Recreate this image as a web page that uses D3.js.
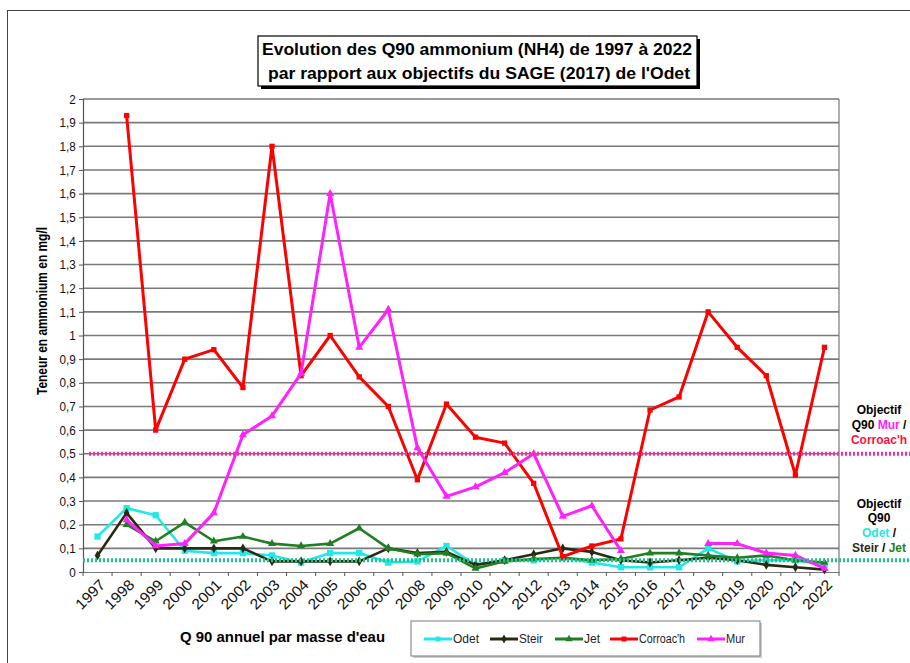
<!DOCTYPE html>
<html>
<head>
<meta charset="utf-8">
<script src="https://cdn.jsdelivr.net/npm/d3@7"></script>
<style>
  body { margin: 0; background: #fff; }
  #viz { width: 910px; height: 663px; }
  text { font-family: "Liberation Sans", Arial, sans-serif; }
</style>
</head>
<body>
<div id="viz"></div>
<script>
var years = ["1997","1998","1999","2000","2001","2002","2003","2004","2005","2006","2007","2008","2009",
  "2010","2011","2012","2013","2014","2015","2016","2017","2018","2019","2020","2021","2022"];

var odet = [0.15,0.27,0.24,0.09,0.08,0.08,0.07,0.04,0.08,0.08,0.04,0.045,0.11,0.03,0.05,0.05,0.06,0.04,
  0.02,0.02,0.02,0.10,0.045,0.05,0.05,0.03];
var steir = [0.07,0.25,0.10,0.10,0.10,0.10,0.045,0.045,0.045,0.045,0.10,0.08,0.085,0.03,0.05,0.075,0.10,0.085,
  0.05,0.04,0.05,0.06,0.05,0.03,0.02,0.01];
var jet = [null,0.20,0.13,0.21,0.13,0.15,0.12,0.11,0.12,0.185,0.10,0.075,0.08,0.015,0.045,0.055,0.06,0.05,
  0.055,0.08,0.08,0.07,0.06,0.07,0.05,0.04];
var corroach = [null,1.93,0.60,0.90,0.94,0.78,1.80,0.83,1.00,0.825,0.70,0.39,0.71,0.57,0.545,0.375,0.065,0.11,
  0.14,0.685,0.74,1.10,0.95,0.83,0.41,0.95];
var mur = [null,0.22,0.11,0.12,0.25,0.58,0.66,0.84,1.60,0.95,1.11,0.525,0.32,0.36,0.42,0.50,0.235,0.28,
  0.09,null,null,0.12,0.12,0.08,0.07,0.015];

var seriesNames = ["Odet","Steir","Jet","Corroac'h","Mur"];
var seriesValues = [odet, steir, jet, corroach, mur];
var seriesColors = ["#22e8e8","#2a2a12","#1f7f23","#ff0000","#ff22ff"];
var seriesMarkers = ["square","cross","triangle","square","triangle"];

var yTicks = [0,0.1,0.2,0.3,0.4,0.5,0.6,0.7,0.8,0.9,1,1.1,1.2,1.3,1.4,1.5,1.6,1.7,1.8,1.9,2];

var objectifMur = 0.5;
var objectifOdet = 0.05;

var width = 910, height = 663;
var margin = {top: 99, right: 71, bottom: 91, left: 83};
var plotW = width - margin.left - margin.right;
var plotH = height - margin.top - margin.bottom;

var svg = d3.select("#viz").append("svg")
    .attr("width", width)
    .attr("height", height);

// outer chart frame
svg.append("rect")
    .attr("x", 7.5).attr("y", 10.5)
    .attr("width", 1000).attr("height", 1000)
    .attr("fill", "none")
    .attr("stroke", "#444")
    .attr("stroke-width", 1);

var x = d3.scaleBand()
    .domain(years)
    .range([0, plotW]);

var y = d3.scaleLinear()
    .domain([0, 2])
    .range([plotH, 0]);

var g = svg.append("g")
    .attr("transform", "translate(" + margin.left + "," + margin.top + ")");

// grid
g.append("g")
    .selectAll("line")
    .data(yTicks.filter(function(d) { return d > 0; }))
    .enter().append("line")
    .attr("x1", 0).attr("x2", plotW)
    .attr("y1", function(d) { return y(d); })
    .attr("y2", function(d) { return y(d); })
    .attr("stroke", "#7a7a7a")
    .attr("stroke-width", 1.6);

g.append("line")
    .attr("x1", plotW).attr("x2", plotW)
    .attr("y1", 0).attr("y2", plotH)
    .attr("stroke", "#777").attr("stroke-width", 1.2);

// axes
var yAxis = d3.axisLeft(y)
    .tickValues(yTicks)
    .tickSize(4)
    .tickFormat(function(d) { return d3.format("~g")(d).replace(".", ","); });

var yg = g.append("g").call(yAxis);
yg.select(".domain").attr("stroke", "#555").attr("stroke-width", 1.2);
yg.selectAll(".tick line").attr("stroke", "#555");
yg.selectAll(".tick text")
    .attr("x", -8)
    .style("font-size", "13px")
    .style("font-family", "'Liberation Sans', Arial, sans-serif")
    .attr("transform", "scale(0.9,1)")
    .attr("fill", "#111");

var xAxis = d3.axisBottom(x).tickSize(0).tickPadding(0);
var xg = g.append("g")
    .attr("transform", "translate(0," + plotH + ")")
    .call(xAxis);
xg.select(".domain").attr("stroke", "#777").attr("stroke-width", 1.2);
xg.selectAll(".tick text")
    .attr("text-anchor", "end")
    .attr("transform", "translate(5,10) rotate(-45)")
    .attr("dy", "0.35em")
    .attr("y", 0)
    .attr("textLength", 35)
    .attr("lengthAdjust", "spacingAndGlyphs")
    .style("font-size", "15px")
    .style("font-family", "'Liberation Sans', Arial, sans-serif")
    .attr("fill", "#111");

// little ticks between categories
xg.append("g").selectAll("line")
    .data(years.concat(["end"]))
    .enter().append("line")
    .attr("x1", function(d, i) { return i * x.bandwidth(); })
    .attr("x2", function(d, i) { return i * x.bandwidth(); })
    .attr("y1", 0).attr("y2", 4)
    .attr("stroke", "#555");

// objective lines
svg.append("line")
    .attr("x1", margin.left + 6).attr("x2", width)
    .attr("y1", margin.top + y(objectifMur)).attr("y2", margin.top + y(objectifMur))
    .attr("stroke", "#f0329a")
    .attr("stroke-width", 4)
    .attr("stroke-dasharray", "2,2");

svg.append("line")
    .attr("x1", margin.left).attr("x2", width)
    .attr("y1", margin.top + y(objectifOdet)).attr("y2", margin.top + y(objectifOdet))
    .attr("stroke", "#1fc48c")
    .attr("stroke-width", 4)
    .attr("stroke-dasharray", "2,2");

function markerPath(type, size) {
  if (type == "square") return d3.symbol().type(d3.symbolSquare).size(size)();
  if (type == "triangle") return d3.symbol().type(d3.symbolTriangle).size(size)();
  return d3.symbol().type(d3.symbolDiamond).size(size)();
}

// series
var line = d3.line()
    .defined(function(d) { return d.v != null; })
    .x(function(d) { return x(d.year) + x.bandwidth() / 2; })
    .y(function(d) { return y(d.v); });

seriesValues.forEach(function(vals, i) {
  var pts = years.map(function(yr, j) { return {year: yr, v: vals[j]}; });
  var sg = g.append("g").attr("class", "series");
  sg.append("path")
      .datum(pts)
      .attr("d", line)
      .attr("fill", "none")
      .attr("stroke", seriesColors[i])
      .attr("stroke-width", i >= 3 ? 3 : 2.6)
      .attr("stroke-linejoin", "round");
  sg.selectAll("path.pt")
      .data(pts.filter(function(d) { return d.v != null; }))
      .enter().append("path")
      .attr("class", "pt")
      .attr("d", markerPath(seriesMarkers[i], i == 0 ? 40 : 28))
      .attr("transform", function(d) {
        return "translate(" + (x(d.year) + x.bandwidth() / 2) + "," + y(d.v) + ")";
      })
      .attr("fill", seriesColors[i]);
});

// title box
svg.append("rect")
    .attr("x", 261).attr("y", 39)
    .attr("width", 439).attr("height", 50)
    .attr("fill", "#000");
svg.append("rect")
    .attr("x", 258).attr("y", 36)
    .attr("width", 439).attr("height", 50)
    .attr("fill", "#fff")
    .attr("stroke", "#000")
    .attr("stroke-width", 1.2);

svg.append("text")
    .attr("x", 262).attr("y", 55)
    .attr("textLength", 430)
    .attr("lengthAdjust", "spacingAndGlyphs")
    .style("font-size", "17px").style("font-weight", "bold")
    .text("Evolution des Q90 ammonium (NH4) de 1997 à 2022");
svg.append("text")
    .attr("x", 268).attr("y", 79)
    .attr("textLength", 422)
    .attr("lengthAdjust", "spacingAndGlyphs")
    .style("font-size", "17px").style("font-weight", "bold")
    .text("par rapport aux objectifs du SAGE (2017) de l'Odet");

// axis titles
svg.append("text")
    .attr("transform", "translate(47,395) rotate(-90)")
    .attr("textLength", 168)
    .attr("lengthAdjust", "spacingAndGlyphs")
    .style("font-size", "14px").style("font-weight", "bold")
    .text("Teneur en ammonium en mg/l");

svg.append("text")
    .attr("x", 180).attr("y", 642)
    .attr("textLength", 205)
    .attr("lengthAdjust", "spacingAndGlyphs")
    .style("font-size", "15px").style("font-weight", "bold")
    .text("Q 90 annuel par masse d'eau");

// legend
var legend = svg.append("g").attr("transform", "translate(411,621)");
legend.append("rect")
    .attr("x", 2).attr("y", 2)
    .attr("width", 349).attr("height", 35)
    .attr("fill", "#ccc");
legend.append("rect")
    .attr("width", 349).attr("height", 35)
    .attr("fill", "#fff")
    .attr("stroke", "#777");

var legendX = [13, 79, 144, 199, 286];
var legendW = [26, 24, 16, 46, 19];
seriesNames.forEach(function(name, i) {
  var it = legend.append("g").attr("transform", "translate(" + legendX[i] + ",18)");
  it.append("line")
      .attr("x1", 0).attr("x2", 28)
      .attr("stroke", seriesColors[i]).attr("stroke-width", 3);
  it.append("path")
      .attr("d", markerPath(seriesMarkers[i], 24))
      .attr("transform", "translate(14,0)")
      .attr("fill", seriesColors[i]);
  it.append("text")
      .attr("x", 29).attr("dy", "0.35em")
      .attr("textLength", legendW[i])
      .attr("lengthAdjust", "spacingAndGlyphs")
      .style("font-size", "12px")
      .attr("fill", "#222")
      .text(name);
});

// objective annotations
var annot1 = svg.append("text")
    .attr("text-anchor", "middle")
    .style("font-size", "12px").style("font-weight", "bold");
annot1.append("tspan").attr("x", 879).attr("y", 414).text("Objectif");
var l2 = annot1.append("tspan").attr("x", 879).attr("y", 429);
l2.append("tspan").text("Q90 ");
l2.append("tspan").attr("fill", "#ff22ff").text("Mur");
l2.append("tspan").text(" /");
annot1.append("tspan").attr("x", 879).attr("y", 444).attr("fill", "#ff1040").text("Corroac'h");

var annot2 = svg.append("text")
    .attr("text-anchor", "middle")
    .style("font-size", "12px").style("font-weight", "bold");
annot2.append("tspan").attr("x", 879).attr("y", 508).text("Objectif");
annot2.append("tspan").attr("x", 879).attr("y", 522).text("Q90");
var l3 = annot2.append("tspan").attr("x", 879).attr("y", 537);
l3.append("tspan").attr("fill", "#22e8e8").text("Odet");
l3.append("tspan").text(" /");
var l4 = annot2.append("tspan").attr("x", 879).attr("y", 552);
l4.append("tspan").attr("fill", "#2a2a12").text("Steir");
l4.append("tspan").text(" / ");
l4.append("tspan").attr("fill", "#1f7f23").text("Jet");
</script>
</body>
</html>
